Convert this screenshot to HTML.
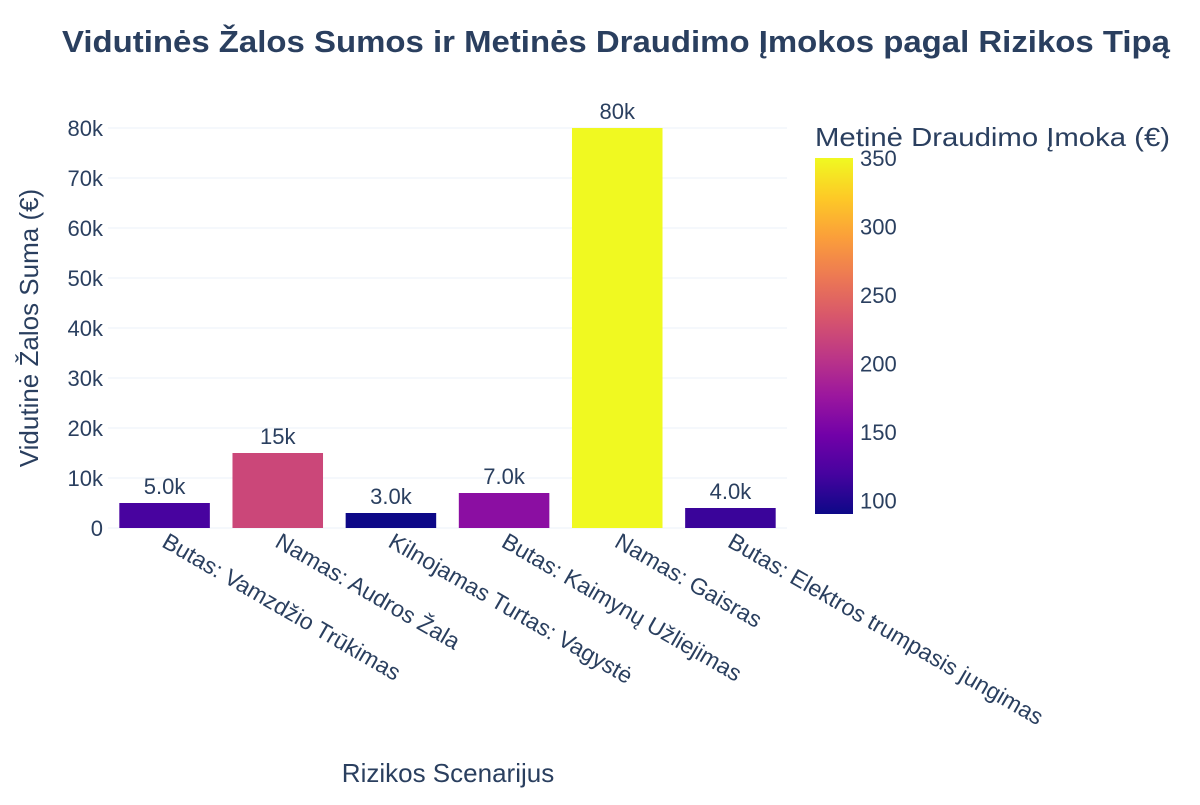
<!DOCTYPE html>
<html><head><meta charset="utf-8"><style>
body{margin:0;background:#fff;font-family:"Liberation Sans",Arial,sans-serif}
svg text{font-family:"Liberation Sans",Arial,sans-serif}
</style></head><body>
<svg id="c" width="1200" height="800">
<defs><linearGradient id="plasma" x1="0" y1="1" x2="0" y2="0">
<stop offset="0" stop-color="#0d0887"/><stop offset="0.111" stop-color="#46039f"/><stop offset="0.222" stop-color="#7201a8"/><stop offset="0.333" stop-color="#9c179e"/><stop offset="0.444" stop-color="#bd3786"/><stop offset="0.556" stop-color="#d8576b"/><stop offset="0.667" stop-color="#ed7953"/><stop offset="0.778" stop-color="#fb9f3a"/><stop offset="0.889" stop-color="#fdca26"/><stop offset="1" stop-color="#f0f921"/>
</linearGradient></defs>
<text x="62" y="52" font-size="31" font-weight="bold" fill="#2a3f5f" textLength="1108" lengthAdjust="spacingAndGlyphs">Vidutinės Žalos Sumos ir Metinės Draudimo Įmokos pagal Rizikos Tipą</text>
<g id="grid"></g><g id="bars"></g><g id="xl"></g><g id="cb"></g>
<text x="38" y="328" transform="rotate(-90 38 328)" text-anchor="middle" font-size="26" fill="#2a3f5f">Vidutinė Žalos Suma (€)</text>
<text x="448" y="782" text-anchor="middle" font-size="26" fill="#2a3f5f">Rizikos Scenarijus</text>
<text x="815" y="146" font-size="26" fill="#2a3f5f" textLength="355" lengthAdjust="spacingAndGlyphs">Metinė Draudimo Įmoka (€)</text>
</svg>
<script>
const categories=["Butas: Vamzdžio Trūkimas","Namas: Audros Žala","Kilnojamas Turtas: Vagystė","Butas: Kaimynų Užliejimas","Namas: Gaisras","Butas: Elektros trumpasis jungimas"];
const damages=[5000,15000,3000,7000,80000,4000];
const labels=["5.0k","15k","3.0k","7.0k","80k","4.0k"];
const premiums=[120,220,90,165,350,113];
const yTicks=[0,10000,20000,30000,40000,50000,60000,70000,80000];
const yTickLabels=["0","10k","20k","30k","40k","50k","60k","70k","80k"];
const cbTicks=[100,150,200,250,300,350];
const NS="http://www.w3.org/2000/svg";
const X0=108,X1=787,Y0=528,Y80=128;
const y=v=>Y0-(v/80000)*(Y0-Y80);
const band=(X1-X0)/categories.length;
const xc=i=>X0+band*(i+0.5);
const cmin=Math.min(...premiums),cmax=Math.max(...premiums);
const stops=[[0,"#0d0887"],[0.111,"#46039f"],[0.222,"#7201a8"],[0.333,"#9c179e"],[0.444,"#bd3786"],[0.556,"#d8576b"],[0.667,"#ed7953"],[0.778,"#fb9f3a"],[0.889,"#fdca26"],[1,"#f0f921"]];
function col(v){let t=(v-cmin)/(cmax-cmin);t=Math.max(0,Math.min(1,t));
for(let k=1;k<stops.length;k++){if(t<=stops[k][0]){const a=stops[k-1],b=stops[k];const f=(t-a[0])/(b[0]-a[0]);
const p=h=>[1,3,5].map(j=>parseInt(h.substr(j,2),16));const A=p(a[1]),B=p(b[1]);
return "rgb("+A.map((c,j)=>Math.round(c+(B[j]-c)*f)).join(",")+")";}}return stops[9][1];}
function mk(tag,at,parent,txt){const e=document.createElementNS(NS,tag);for(const k in at)e.setAttribute(k,at[k]);if(txt!==undefined)e.textContent=txt;document.getElementById(parent).appendChild(e);return e;}
yTicks.forEach((v,i)=>{
const l=mk("line",{x1:X0,x2:X1,y1:y(v),y2:y(v),stroke:"#ebf0f8","stroke-width":1},"grid");


const t=mk("text",{x:103,y:y(v)+8,"text-anchor":"end","font-size":22,fill:"#2a3f5f"},"grid",yTickLabels[i]);


});
categories.forEach((c,i)=>{
const bw=band*0.8;
const r=mk("rect",{x:xc(i)-bw/2,y:y(damages[i]),width:bw,height:Y0-y(damages[i]),fill:col(premiums[i])},"bars");


const t=mk("text",{x:xc(i),y:y(damages[i])-9,"text-anchor":"middle","font-size":22,fill:"#2a3f5f"},"bars",labels[i]);


const xl=mk("text",{x:xc(i)-4,y:546,transform:"rotate(30 "+(xc(i)-4)+" 546)","font-size":23,fill:"#2a3f5f"},"xl",c);


});
const CT=158,CB=514,cy=v=>CB-(v-cmin)/(cmax-cmin)*(CB-CT);
const r=mk("rect",{x:815,y:CT,width:38,height:CB-CT,fill:"url(#plasma)"},"cb");


cbTicks.forEach(v=>{
const t=mk("text",{x:860,y:cy(v)+8,"font-size":22,fill:"#2a3f5f"},"cb",String(v));


});
</script>
</body></html>
